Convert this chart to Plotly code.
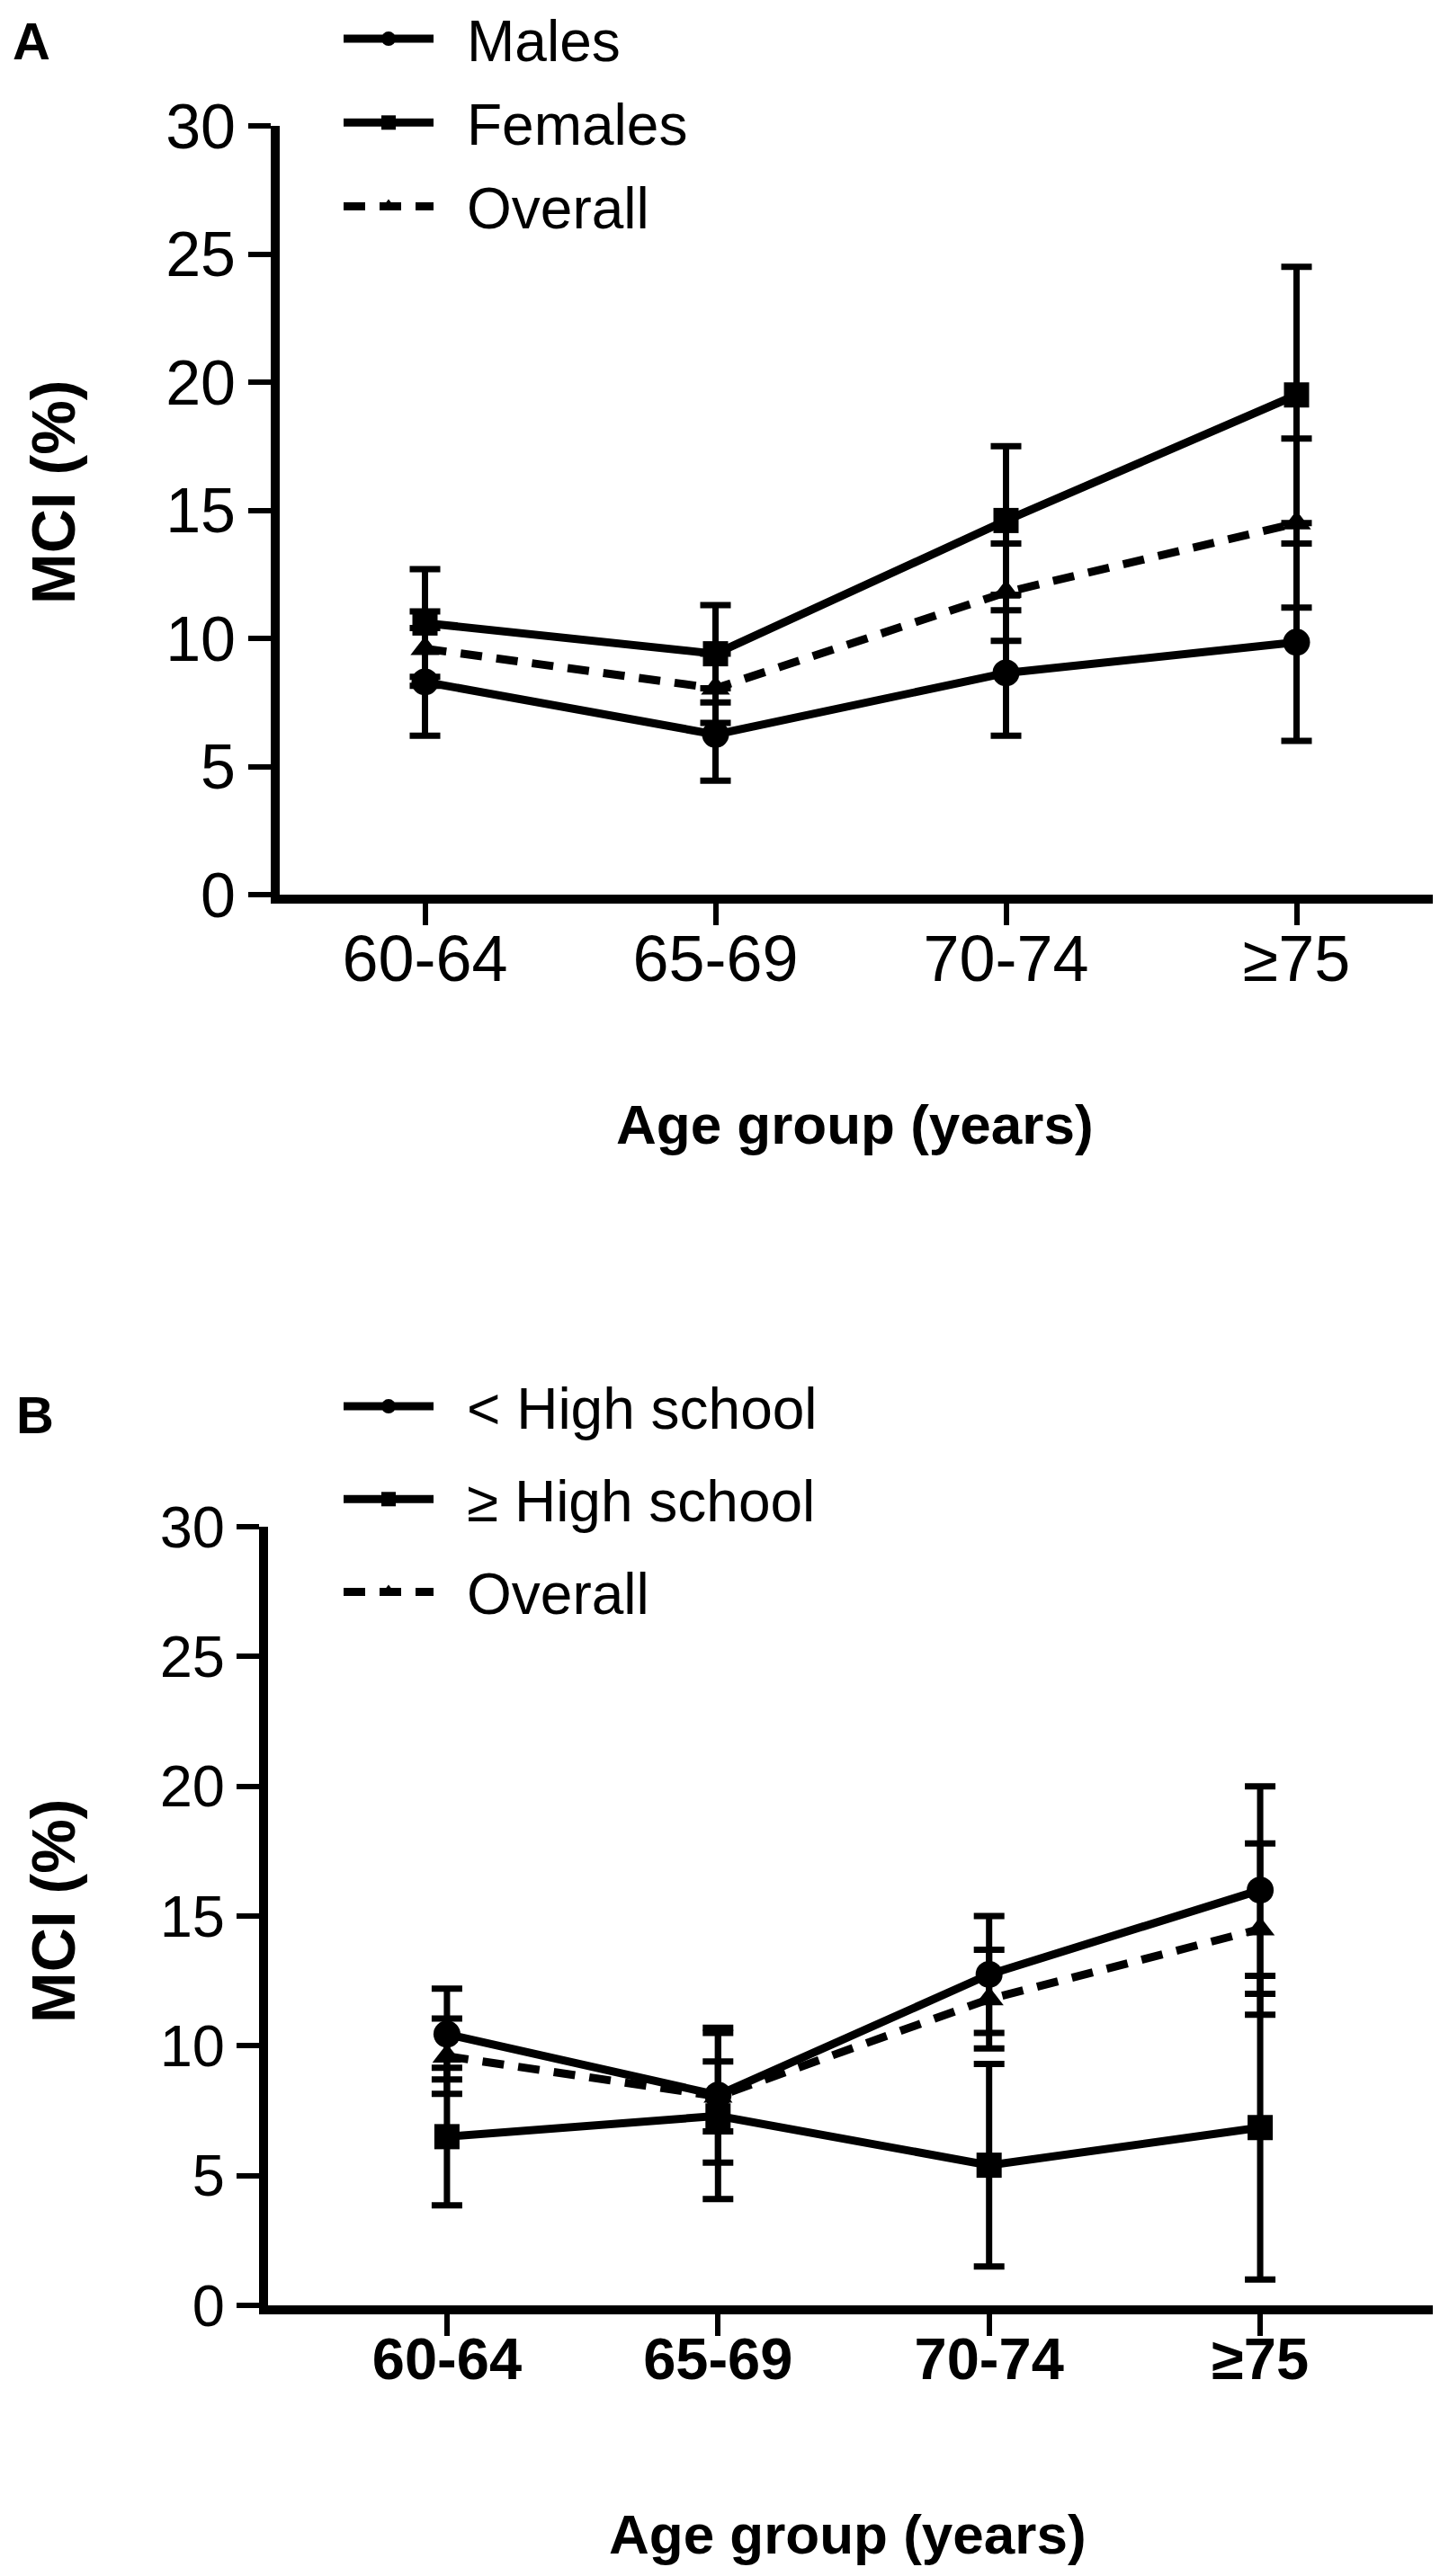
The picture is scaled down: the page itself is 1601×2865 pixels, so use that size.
import plotly.graph_objects as go

# age groups on the x axis
age_groups = ["60-64", "65-69", "70-74", "≥75"]

# panel A: MCI prevalence by sex (%), with error bar half-widths
males = [8.3, 6.25, 8.65, 9.85]
males_err = [2.1, 1.8, 2.45, 3.85]
females = [10.6, 9.4, 14.6, 19.5]
females_err = [2.1, 1.9, 2.9, 5.0]
overall = [9.6, 8.05, 11.8, 14.5]
overall_err = [1.45, 1.35, 1.9, 3.3]

# panel B: MCI prevalence by education (%)
lt_hs = [10.45, 8.1, 12.75, 16.0]
lt_hs_err = [1.75, 2.6, 2.25, 4.0]
ge_hs = [6.5, 7.3, 5.4, 6.85]
ge_hs_err = [2.65, 3.2, 3.9, 5.85]

W, H = 1601, 2865
FONT = "Arial, Liberation Sans, sans-serif"
GAP = "\u2002"  # space between legend symbol and label


def px_x(v):
    return v / W


def px_y(v):
    return 1 - v / H


def series(x, y, err, name, symbol, dash, xa, ya, legend, size=30):
    return go.Scatter(
        x=x, y=y, name=GAP + name, mode="lines+markers",
        line=dict(color="black", width=9, dash=dash),
        marker=dict(symbol=symbol, size=size, color="black"),
        error_y=dict(type="data", array=err, visible=True, color="black",
                     thickness=7, width=17),
        xaxis=xa, yaxis=ya, legend=legend, legendgroup=name + legend,
    )


fig = go.Figure()

fig.add_trace(series(age_groups, males, males_err, "Males", "circle", "solid", "x", "y", "legend"))
fig.add_trace(series(age_groups, females, females_err, "Females", "square", "solid", "x", "y", "legend", 28))
fig.add_trace(series(age_groups, overall, overall_err, "Overall", "triangle-up", "24px,16px", "x", "y", "legend", 28))

fig.add_trace(series(age_groups, lt_hs, lt_hs_err, "< High school", "circle", "solid", "x2", "y2", "legend2"))
fig.add_trace(series(age_groups, ge_hs, ge_hs_err, "≥ High school", "square", "solid", "x2", "y2", "legend2", 28))
fig.add_trace(series(age_groups, overall, overall_err, "Overall", "triangle-up", "24px,16px", "x2", "y2", "legend2", 28))

axis_common = dict(showline=True, linecolor="black", linewidth=10, showgrid=False,
                   zeroline=False, ticks="outside", tickcolor="black", tickwidth=6,
                   mirror=False)
ytick_vals = [0, 5, 10, 15, 20, 25, 30]

fig.update_layout(
    width=W, height=H,
    margin=dict(l=0, r=0, t=0, b=0, autoexpand=False),
    plot_bgcolor="white", paper_bgcolor="white",
    font=dict(family=FONT, color="black"),
    xaxis=dict(domain=[px_x(303), px_x(1595)], anchor="y", type="category",
               range=[-0.5, 3.5], ticklen=24, tickfont=dict(size=72),
               ticklabelstandoff=-24, **axis_common),
    yaxis=dict(domain=[px_y(987), px_y(132)], anchor="x", range=[0, 30],
               tickvals=ytick_vals, ticklen=25,
               tickfont=dict(size=70), ticklabelstandoff=0, **axis_common),
    xaxis2=dict(domain=[px_x(290), px_x(1595)], anchor="y2", type="category",
                range=[-0.66, 3.67], ticklen=24, tickfont=dict(size=65),
                tickprefix="<b>", ticksuffix="</b>",
                ticklabelstandoff=-30, **axis_common),
    yaxis2=dict(domain=[px_y(2556), px_y(1690)], anchor="x2", range=[0, 30],
                tickvals=ytick_vals, ticklen=25, tickfont=dict(size=65),
                tickprefix="<b>", ticksuffix="</b>",
                ticklabelstandoff=0, **axis_common),
    legend=dict(x=px_x(369), y=px_y(-13), xanchor="left", yanchor="top",
                font=dict(size=64), itemwidth=100, tracegroupgap=7,
                bgcolor="rgba(0,0,0,0)"),
    legend2=dict(x=px_x(369), y=px_y(1508), xanchor="left", yanchor="top",
                 font=dict(size=64), itemwidth=100, tracegroupgap=17,
                 bgcolor="rgba(0,0,0,0)"),
)

annotations = [
    dict(text="<b>A</b>", x=px_x(4), y=px_y(38), xanchor="left", font=dict(size=58)),
    dict(text="<b>B</b>", x=px_x(8), y=px_y(1566), xanchor="left", font=dict(size=58)),
    dict(text="<b>MCI (%)</b>", x=px_x(51), y=px_y(540), xanchor="center", textangle=-90, font=dict(size=68)),
    dict(text="<b>MCI (%)</b>", x=px_x(51), y=px_y(2118), xanchor="center", textangle=-90, font=dict(size=68)),
    dict(text="<b>Age group (years)</b>", x=px_x(942), y=px_y(1243), xanchor="center", font=dict(size=62)),
    dict(text="<b>Age group (years)</b>", x=px_x(934), y=px_y(2810), xanchor="center", font=dict(size=62)),
]
for a in annotations:
    a.update(xref="paper", yref="paper", showarrow=False, yanchor="middle")
fig.update_layout(annotations=annotations)

fig.write_html("out.html")
